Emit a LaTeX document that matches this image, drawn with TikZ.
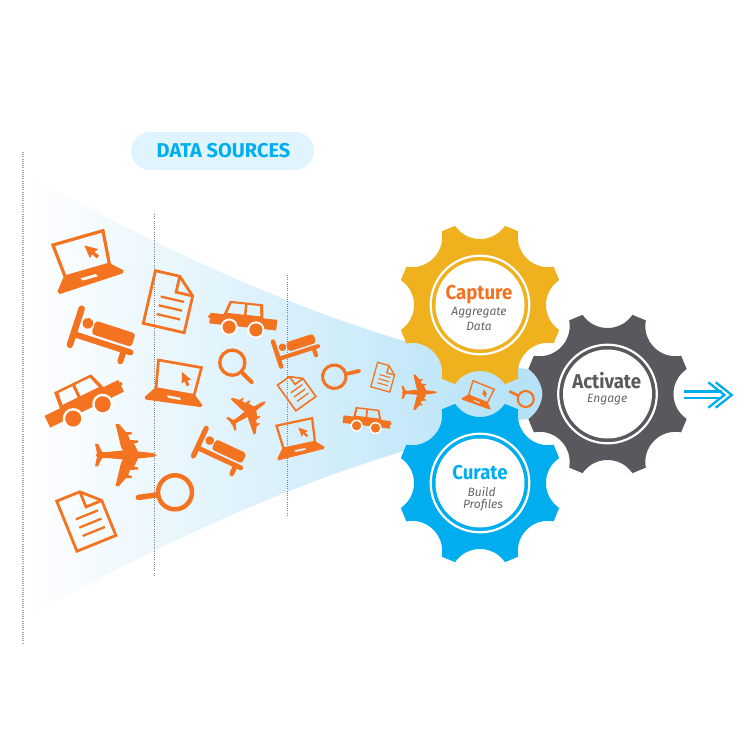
\documentclass[tikz,border=0pt]{standalone}
\usepackage{fontspec}
\setmainfont{Fira Sans}
\newfontfamily\titlef[FakeStretch=0.93]{Fira Sans}
\definecolor{oran}{HTML}{F47320}
\definecolor{goldc}{HTML}{EFB11D}
\definecolor{bluec}{HTML}{00AEEF}
\definecolor{grayc}{HTML}{5A585D}
\definecolor{pillc}{HTML}{E0F4FD}
\definecolor{subc}{HTML}{666669}
\definecolor{bandc}{HTML}{B3E1F7}
\newcommand\gearshape{(-17.5:83) \foreach \k in {0,45,...,315}{ .. controls ({\k-11.9}:62.95) and ({\k+11.9}:62.95) .. ({\k+17.5}:83) -- ({\k+27.5}:83) } -- cycle}
\tikzset{
  sz/.style={scale=#1,line width=#1*2.8pt,draw=oran,fill=oran,/utils/exec={\def\lwf{#1}}},
  title/.style={font=\fontsize{20}{20}\titlef\bfseries,inner sep=0pt},
  sub/.style={font=\fontsize{12}{12}\selectfont\itshape,text=subc,inner sep=0pt},
  dots/.style={draw=black!50,line width=0.9pt,dash pattern=on 1pt off 1.2pt},
  core/.style={circle,fill=white,minimum size=89pt,inner sep=0pt},
  laptop/.pic={
    \draw[fill=none,line width=\lwf*3.2pt,miter limit=4] (-26,-22) -- (26,-22) -- (23,12) -- (-23,12) -- cycle;
    \fill[even odd rule,draw=none] (-24.9,12) -- (24.5,12) -- (35,22) -- (33,24.5) -- (-33,27) -- (-34.5,24) -- cycle
      (-9,17.5) -- (7,17.5) -- (9,20.5) -- (-7,20.5) -- cycle;
    \fill[draw=none,shift={(4,-13)}] (0,0) -- (2,14) -- (5,10.5) -- (8.5,16) -- (11.5,14) -- (8,9) -- (12.5,7.5) -- cycle;
  },
  bedicon/.pic={
    \draw[fill=none,line width=\lwf*6.5pt,line cap=round] (-30,-20) -- (-30,18);
    \draw[fill=none,line width=\lwf*6pt,line cap=round] (-30,6.5) -- (30,6.5);
    \draw[fill=none,line width=\lwf*6pt,line cap=round] (23,6.5) -- (23,18);
    \fill[draw=none] (-19.6,-8) circle (5.5);
    \fill[draw=none,rounded corners=3pt] (-13,-13) -- (29,-13) -- (29,1) -- (-13,1) -- cycle;
  },
  car/.pic={
    \fill[draw=none] (-41,-6) -- (41,-6) -- (41,-3) -- (43,-3) -- (43,0) -- (41,0) -- (41,7) -- (-41,7) -- cycle;
    \fill[draw=none,even odd rule] (-24,-5) -- (-22,-23) -- (19,-23) -- (25,-5) -- cycle
      (-20,-8) -- (-18.5,-20.5) -- (-3,-20.5) -- (-3,-8) -- cycle
      (0,-8) -- (0,-20.5) -- (16.5,-20.5) -- (20.5,-8) -- cycle;
    \fill[white,draw=none] (-16.4,9) circle (10.5) (16.4,9) circle (10.5);
    \fill[draw=none] (-16.4,9) circle (8) (16.4,9) circle (8);
  },
  plane/.pic={
    \fill[draw=none] (31,0) -- (27,-2) -- (12,-3.5) -- (8,-11.5) -- (12,-12.5) -- (12,-14.5) -- (4,-15) -- (2,-20) -- (6,-21) -- (5.5,-23) -- (0,-23) -- (-7,-31) -- (-10.5,-31) -- (-5,-8) -- (-3,-4.5) -- (-19,-3) -- (-24,-3) -- (-28,-11.5) -- (-31,-11) -- (-29,-2) -- (-30,0)
      -- (-29,2) -- (-31,11) -- (-28,11.5) -- (-24,3) -- (-19,3) -- (-3,4.5) -- (-5,8) -- (-10.5,31) -- (-7,31) -- (0,23) -- (5.5,23) -- (6,21) -- (2,20) -- (4,15) -- (12,14.5) -- (12,12.5) -- (8,11.5) -- (12,3.5) -- (27,2) -- cycle;
  },
  docicon/.pic={
    \draw[fill=none] (-21,-27) -- (4,-27) -- (21,-10.7) -- (21,27) -- (-21,27) -- cycle;
    \draw[fill=none] (4,-27) -- (4,-10.7) -- (21,-10.7);
    \draw[fill=none,line width=\lwf*2.3pt] (-10,-3) -- (14,-3) (-10,6) -- (14,6) (-10,15) -- (14,15);
  },
  mag/.pic={
    \draw[fill=none,line width=\lwf*4.5pt] (0,0) circle (17);
    \draw[fill=none,line width=\lwf*5.5pt,line cap=round] (18,0) -- (37,0);
  }
}
\begin{document}
\begin{tikzpicture}[x=1pt,y=-1pt]
\useasboundingbox (0,0) rectangle (756,756);
\fill[white] (0,0) rectangle (756,756);
% gray gear, halos
\fill[grayc,shift={(607.5,394)}] \gearshape;
\draw[white,line width=9pt,line join=round,shift={(480,305)}] \gearshape;
\draw[white,line width=9pt,line join=round,shift={(480,483)}] \gearshape;
% funnel and band
\shade[left color=white,right color=bandc]
  (23,173) .. controls (150,243) and (277,303) .. (404,341)
  -- (430,335) -- (518,340) -- (518.3,368) -- (528,369)
  .. controls (537,376) and (542,385) .. (542.4,394)
  .. controls (542,403) and (537,412) .. (528,419)
  -- (518.3,420) -- (518,450) -- (430,457) -- (404,451)
  .. controls (277,489) and (150,549) .. (23,619) -- cycle;
% gears
\fill[goldc,shift={(480,305)}] \gearshape;
\fill[bluec,shift={(480,483)}] \gearshape;
% dotted guides
\draw[dots,draw=black!35,line width=1.2pt] (23,152) -- (23,644);
\draw[dots] (154.5,214) -- (154.5,576);
\draw[dots] (287,275) -- (287,517);
% rings
\foreach \cx/\cy in {480/305,480/483,607.5/394}{
  \draw[white,line width=2.2pt] (\cx,\cy) circle (49.3);
}
\node[core] (capture) at (480,305) {};
\node[core] (curate) at (480,483) {};
\node[core] (activate) at (607.5,394) {};
% pill
\node[fill=pillc,rounded corners=19pt,minimum width=183pt,minimum height=38pt,inner sep=0pt,text=bluec,font=\fontsize{20}{20}\selectfont\bfseries] (sources) at (222.5,151) {\hspace*{2pt}DATA SOURCES};
% labels
\node[title,text=oran] (t1) at (479,294.5) {Capture};
\node[sub] (s1a) at (479,313) {Aggregate};
\node[sub] (s1b) at (479,326) {Data};
\node[title,text=bluec] (t2) at (480,473) {Curate};
\node[sub] (s2a) at (481.7,491.7) {Build};
\node[sub] (s2b) at (483,505.7) {Profiles};
\node[title,text=grayc] (t3) at (606.7,380.7) {Activate};
\node[sub] (s3) at (607.3,400) {Engage};
% icons
\pic[sz=1,rotate=16] at (84,259) {laptop};
\pic[sz=.84,rotate=-10] at (176.8,382) {laptop};
\pic[sz=.7,rotate=12] at (297.5,437) {laptop};
\pic[sz=.44,rotate=-22] at (480,394) {laptop};
\pic[sz=1,rotate=-18] at (104,337) {bedicon};
\pic[sz=.8,rotate=-25] at (221.2,453) {bedicon};
\pic[sz=.69,rotate=18] at (297,348.3) {bedicon};
\pic[sz=1,rotate=26] at (84,403.3) {car};
\pic[sz=.82,rotate=-6,xscale=-1] at (243.3,321.2) {car};
\pic[sz=.58,rotate=-7] at (366.7,421.7) {car};
\pic[sz=1] at (126,455) {plane};
\pic[sz=.68,rotate=33] at (248.2,413) {plane};
\pic[sz=.57] at (419.3,392.3) {plane};
\pic[sz=1,rotate=-13] at (169.8,301.7) {docicon};
\pic[sz=1,rotate=22] at (86.3,518.3) {docicon};
\pic[sz=.585,rotate=35.6] at (296.7,390.8) {docicon};
\pic[sz=.47,rotate=-15.7] at (383.7,377.2) {docicon};
\pic[sz=1,rotate=188] at (175,492.3) {mag};
\pic[sz=.74,rotate=-45] at (232.3,362.7) {mag};
\pic[sz=.69,rotate=13] at (334.3,376.7) {mag};
\pic[sz=.47,rotate=155] at (525.7,399) {mag};
% output arrow
\draw[bluec,line width=2.2pt] (684,391.5) -- (722,391.5) (684,398) -- (722,398);
\draw[bluec,line width=2.3pt] (708.3,382.3) -- (724.3,395) -- (708.3,407.7);
\draw[bluec,line width=2.3pt] (715.7,382.3) -- (731.7,395) -- (715.7,407.7);
\end{tikzpicture}
\end{document}
